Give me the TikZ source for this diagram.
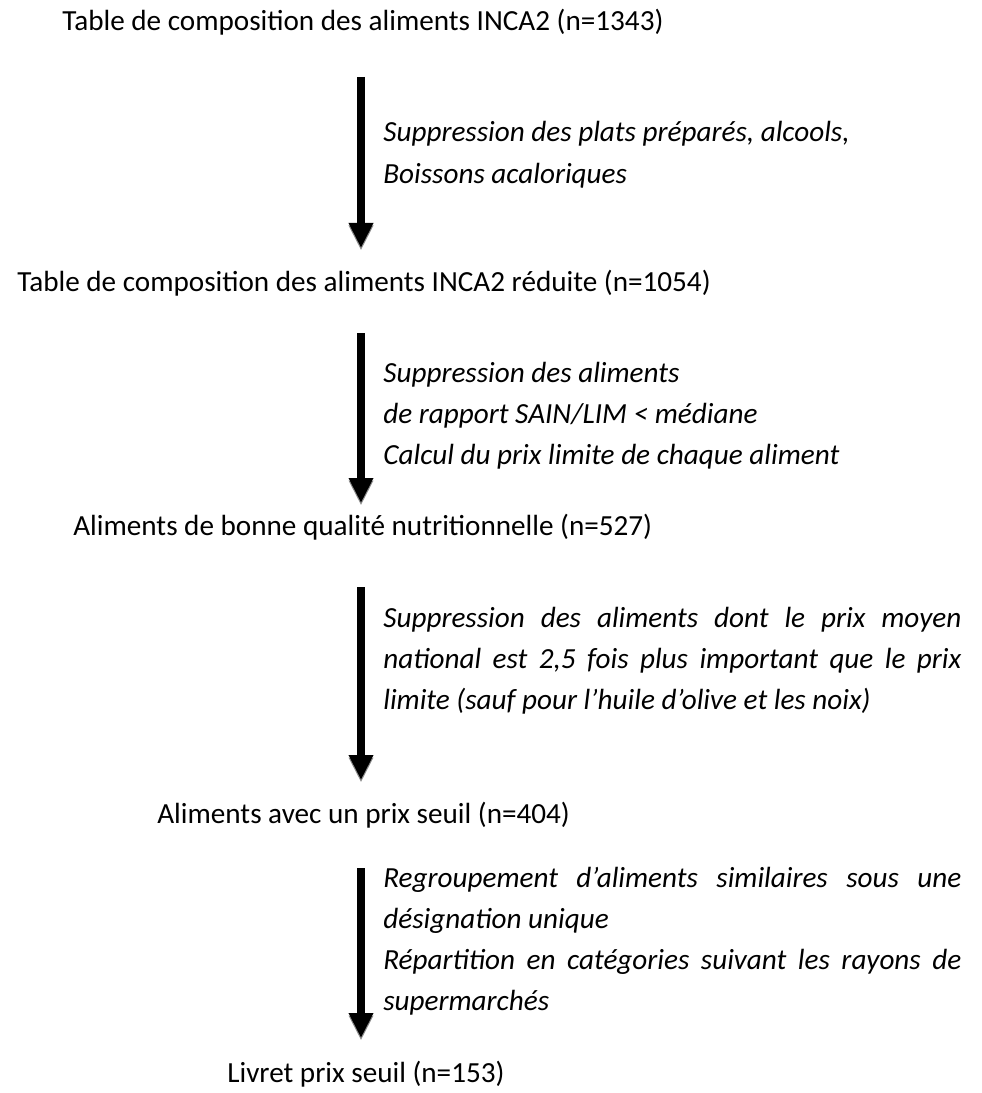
\documentclass[tikz,border=0pt]{standalone}
\usepackage{fontspec}
\setmainfont{Carlito}
\usepackage{tikz}
\usetikzlibrary{arrows.meta}
\tikzset{
  flow/.style={-{Triangle[length=0.5cm, width=0.46cm]}, line width=0.16cm, color=black,
               preaction={draw=black!45, transform canvas={yshift=-0.05cm}}},
}

\begin{document}
\begin{tikzpicture}[x=1cm, y=1cm,
  stage/.style={font=\fontsize{16.6}{20}\selectfont, anchor=base west, inner sep=0pt},
  note/.style={font=\fontsize{16.6}{23.4}\selectfont\itshape, anchor=base west, inner sep=0pt, text width=11.56cm, align=justify}]
  \useasboundingbox (0,0) rectangle (19.64,-21.86);
  % Stages of the table
  \node[stage] (t1) at (1.24,-0.62) {Table de composition des aliments INCA2 (n=1343)};
  \node[stage] (t2) at (0.34,-5.84) {Table de composition des aliments INCA2 réduite (n=1054)};
  \node[stage] (t3) at (1.46,-10.70) {Aliments de bonne qualité nutritionnelle (n=527)};
  \node[stage] (t4) at (3.14,-16.46) {Aliments avec un prix seuil (n=404)};
  \node[stage] (t5) at (4.54,-21.64) {Livret prix seuil (n=153)};
  % Arrows from one stage to the next
  \foreach \i/\ys/\ye in {1/-1.54/-4.96, 2/-6.66/-10.06, 3/-11.74/-15.60, 4/-17.36/-20.76} {
    \coordinate (top\i) at (7.22,\ys);
    \coordinate (tip\i) at (7.22,\ye);
    \draw[flow] (top\i) -- (tip\i);
  }
  % Steps beside the arrows
  \node[note] (n1) at (7.66,-2.84) {Suppression des plats préparés, alcools,\\Boissons acaloriques};
  \node[note] (n2) at (7.66,-7.64) {Suppression des aliments\\de rapport SAIN/LIM < médiane\\Calcul du prix limite de chaque aliment};
  \node[note] (n3) at (7.66,-12.54) {Suppression des aliments dont le prix moyen\linebreak national est 2,5 fois plus important que le prix\linebreak limite (sauf pour l’huile d’olive et les noix)};
  \node[note] (n4) at (7.66,-17.74) {Regroupement d’aliments similaires sous une\linebreak désignation unique\\Répartition en catégories suivant les rayons de\linebreak supermarchés};
\end{tikzpicture}
\end{document}
